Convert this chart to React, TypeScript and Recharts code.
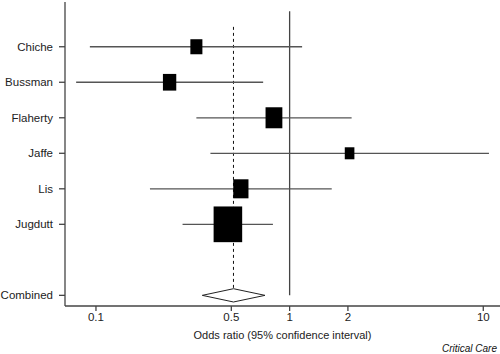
import React from 'react';
import { ScatterChart, Scatter, XAxis, YAxis, ReferenceLine } from 'recharts';

const studies = ['Chiche', 'Bussman', 'Flaherty', 'Jaffe', 'Lis', 'Jugdutt'];
const oddsRatio = [0.33, 0.24, 0.83, 2.04, 0.56, 0.48];
const ciLower = [0.093, 0.079, 0.33, 0.39, 0.19, 0.28];
const ciUpper = [1.16, 0.73, 2.09, 10.7, 1.65, 0.82];
const weights = [8.3, 10.2, 16.2, 5.3, 13.3, 46.8];

const combinedLabel = 'Combined';
const combinedOR = 0.513;
const combinedLower = 0.354;
const combinedUpper = 0.746;

const xTicks = [0.1, 0.5, 1, 2, 10];
const yTickRows = [0, 1, 2, 3, 4, 5, 7];
const yTickLabels = [...studies, combinedLabel];

const COMBINED_ROW = 7;
const DIAMOND_HALF = 0.187;

const studyRows = studies.map((name, i) => ({ name, x: oddsRatio[i], y: i, w: weights[i] }));
const diamond = [
  { x: combinedLower, y: COMBINED_ROW },
  { x: combinedOR, y: COMBINED_ROW - DIAMOND_HALF },
  { x: combinedUpper, y: COMBINED_ROW },
  { x: combinedOR, y: COMBINED_ROW + DIAMOND_HALF },
  { x: combinedLower, y: COMBINED_ROW },
];

const Box = (props: any) => {
  const { cx, cy, payload } = props;
  if (cx == null || cy == null) return null;
  const h = 5.22 * Math.sqrt(payload.w);
  const w = h * 0.8;
  return <rect x={cx - w / 2} y={cy - h / 2} width={w} height={h} fill="#000" />;
};

const Empty = () => <g />;

const font = '"Liberation Sans", Arial, Helvetica, sans-serif';

export default function App() {
  return (
    <div style={{ position: 'absolute', left: 0, top: 0, width: 500, height: 354, background: '#fff', fontFamily: font }}>
      <ScatterChart width={500} height={354} margin={{ top: 2, right: 0, bottom: 18, left: 0 }} style={{ fontFamily: font }}>
        <XAxis
          type="number"
          dataKey="x"
          scale="log"
          domain={[0.0692, 12.2]}
          allowDataOverflow
          ticks={xTicks}
          tickFormatter={(v: number) => String(v)}
          height={30}
          tickSize={5}
          tickMargin={2}
          stroke="#444"
          tick={{ fill: '#222', fontSize: 11.5 }}
          axisLine={{ stroke: '#444', strokeWidth: 1.3 }}
          tickLine={{ stroke: '#444', strokeWidth: 1.3 }}
          label={{ value: 'Odds ratio (95% confidence interval)', position: 'insideBottom', offset: -3, fill: '#222', fontSize: 11 }}
        />
        <YAxis
          type="number"
          dataKey="y"
          domain={[-1.26, 7.3]}
          reversed
          allowDataOverflow
          ticks={yTickRows}
          interval={0}
          tickFormatter={(v: number) => yTickLabels[yTickRows.indexOf(v)] ?? ''}
          width={65}
          tickSize={6}
          tickMargin={6}
          stroke="#444"
          tick={{ fill: '#222', fontSize: 11.5 }}
          axisLine={{ stroke: '#444', strokeWidth: 1.3 }}
          tickLine={{ stroke: '#444', strokeWidth: 1.3 }}
        />
        <ReferenceLine
          segment={[{ x: 1, y: -1.0 }, { x: 1, y: COMBINED_ROW }]}
          stroke="#444"
          strokeWidth={1.3}
          ifOverflow="visible"
        />
        <ReferenceLine
          segment={[{ x: combinedOR, y: -0.56 }, { x: combinedOR, y: COMBINED_ROW - DIAMOND_HALF }]}
          stroke="#111"
          strokeWidth={1}
          strokeDasharray="3 3"
          ifOverflow="visible"
        />
        {studies.map((s, i) => (
          <ReferenceLine
            key={s}
            segment={[{ x: ciLower[i], y: i }, { x: ciUpper[i], y: i }]}
            stroke="#555"
            strokeWidth={1.3}
            ifOverflow="visible"
          />
        ))}
        <Scatter data={studyRows} shape={Box} isAnimationActive={false} />
        <Scatter
          data={diamond}
          shape={Empty}
          line={{ stroke: '#222', strokeWidth: 1 }}
          lineType="joint"
          fill="none"
          isAnimationActive={false}
        />
      </ScatterChart>
      <div
        style={{
          position: 'absolute',
          right: 3,
          top: 343,
          fontSize: 10,
          fontStyle: 'italic',
          color: '#111',
          lineHeight: '12px',
          whiteSpace: 'nowrap',
        }}
      >
        Critical Care
      </div>
    </div>
  );
}
